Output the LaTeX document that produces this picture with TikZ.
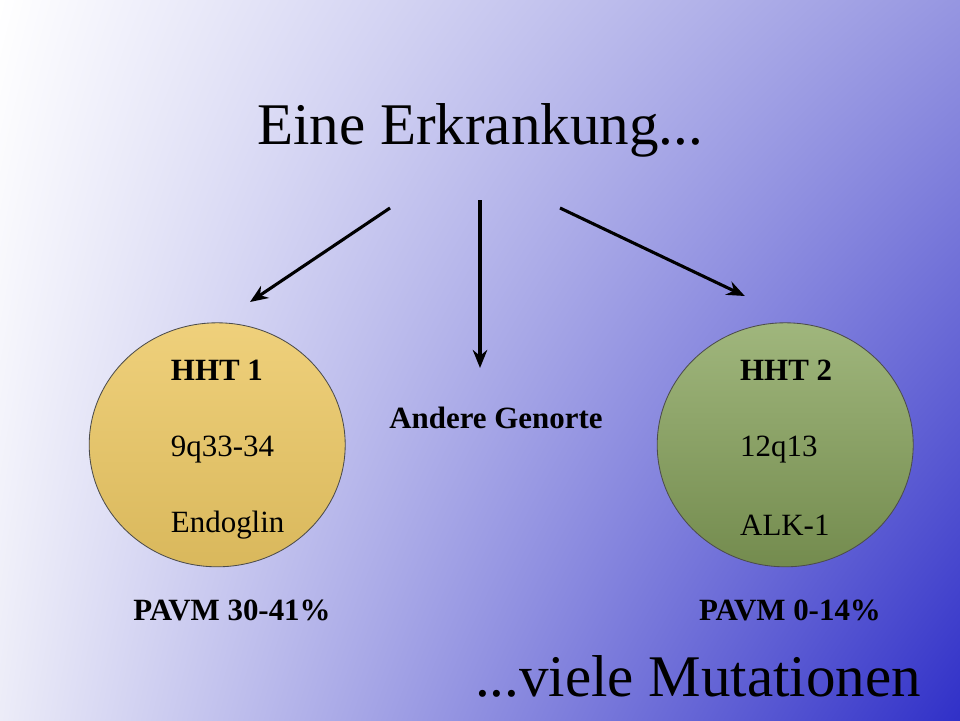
\documentclass[tikz,border=0pt]{standalone}
\usepackage{fontspec}
\setmainfont{Liberation Serif}
\usetikzlibrary{arrows.meta,positioning,shadings,shapes.geometric}
\definecolor{bgblue}{RGB}{48,48,200}
\definecolor{bgmid}{RGB}{150,150,225}
\definecolor{bglight}{RGB}{236,236,248}
\definecolor{hhtyellow}{RGB}{236,200,100}
\definecolor{hhtgreen}{RGB}{136,164,92}
\tikzset{
  bigtext/.style={font=\fontsize{42}{46}\selectfont},
  genetext/.style={font=\fontsize{22}{26}\selectfont, anchor=west},
  boldtext/.style={font=\bfseries\fontsize{22}{26}\selectfont},
  disease/.style={ellipse, draw=black!70, line width=0.6pt, minimum width=6.4cm, minimum height=6.1cm},
  pfeil/.style={-{Stealth[length=4.5mm,width=3.6mm]}, line width=2.2pt}
}
\begin{document}
\begin{tikzpicture}
		\shade[upper left=white, upper right=bgmid, lower left=bglight, lower right=bgblue] (0,0) rectangle (24,18);
		\useasboundingbox (0,0) rectangle (24,18);
		
		\node [bigtext] (title) at (12,14.75) {Eine Erkrankung...};
		\node [bigtext] (mut) at (17.45,1.1) {...viele Mutationen};
		
		\node [disease, top color=hhtyellow!85!white, bottom color=hhtyellow!92!black] (hhta) at (5.43,6.88) {};
		\node [disease, top color=hhtgreen!80!white, bottom color=hhtgreen!85!black] (hhtb) at (19.63,6.88) {};
		
		\node [boldtext, anchor=west] (hhtaname) at (4.15,8.75) {HHT 1};
		\node [genetext] (hhtalocus) at (4.15,6.75) {9q33-34};
		\node [genetext] (hhtagene) at (4.15,4.88) {Endoglin};
		\node [boldtext, anchor=west] (hhtbname) at (18.38,8.75) {HHT 2};
		\node [genetext] (hhtblocus) at (18.38,6.75) {12q13};
		\node [genetext] (hhtbgene) at (18.38,4.88) {ALK-1};
		
		\node [boldtext] (andere) at (12.4,7.55) {Andere Genorte};
		\node [boldtext] (pavma) at (5.8,2.75) {PAVM 30-41\%};
		\node [boldtext] (pavmb) at (19.75,2.75) {PAVM 0-14\%};
		
		\coordinate (la) at (9.75,12.8);
		\coordinate (lb) at (6.25,10.45);
		\coordinate (ma) at (12,13);
		\coordinate (mb) at (12,8.8);
		\coordinate (ra) at (14,12.8);
		\coordinate (rb) at (18.62,10.6);
		\draw [pfeil] (la) -- (lb);
		\draw [pfeil] (ma) -- (mb);
		\draw [pfeil] (ra) -- (rb);
\end{tikzpicture}
\end{document}
